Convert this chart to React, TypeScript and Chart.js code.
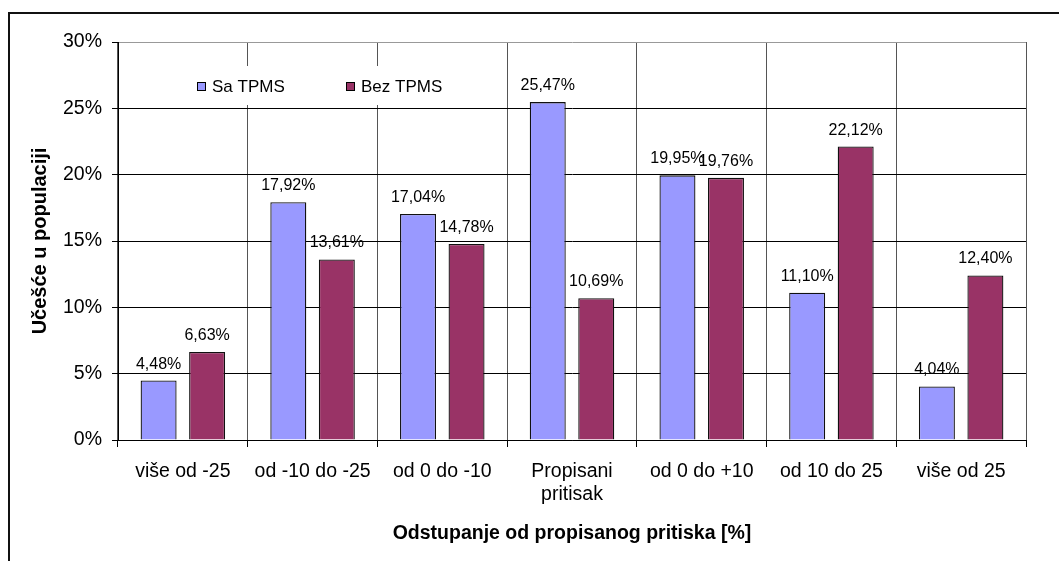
import React, { useEffect, useRef } from "react";
import { Chart, registerables } from "chart.js";

Chart.register(...registerables);

const categories: (string | string[])[] = [
  "više od -25",
  "od -10 do -25",
  "od 0 do -10",
  ["Propisani", "pritisak"],
  "od 0 do +10",
  "od 10 do 25",
  "više od 25",
];
const saTPMS = [4.48, 17.92, 17.04, 25.47, 19.95, 11.1, 4.04];
const bezTPMS = [6.63, 13.61, 14.78, 10.69, 19.76, 22.12, 12.4];
const seriesNames = ["Sa TPMS", "Bez TPMS"];
const seriesColors = ["#9999FF", "#993366"];
const yTicks = [0, 5, 10, 15, 20, 25, 30];
const xTitle = "Odstupanje od propisanog pritiska [%]";
const yTitle = "Učešće u populaciji";

const FONT = "'Liberation Sans', Arial, sans-serif";

const W = 1059;
const H = 561;

const fmt = (v: number) => v.toFixed(2).replace(".", ",") + "%";

const framePlugin = {
  id: "frame",
  afterDraw(chart: any) {
    const ctx = chart.ctx;
    ctx.save();
    ctx.fillStyle = "#111";
    ctx.fillRect(8, 12, W - 8, 2);
    ctx.fillRect(8, 12, 2, H - 12);
    ctx.restore();
  },
};

const legendPlugin = {
  id: "boxLegend",
  beforeDatasetsDraw(chart: any) {
    const ctx = chart.ctx;
    ctx.save();
    ctx.fillStyle = "#fff";
    ctx.fillRect(188, 66, 272, 39);
    const items = [
      { x: 197, label: seriesNames[0], color: seriesColors[0] },
      { x: 346, label: seriesNames[1], color: seriesColors[1] },
    ];
    ctx.font = `17px ${FONT}`;
    ctx.textBaseline = "middle";
    ctx.textAlign = "left";
    for (const it of items) {
      ctx.fillStyle = it.color;
      ctx.fillRect(it.x, 82, 9, 9);
      ctx.strokeStyle = "#000";
      ctx.lineWidth = 1;
      ctx.strokeRect(it.x + 0.5, 82.5, 8, 8);
      ctx.fillStyle = "#000";
      ctx.fillText(it.label, it.x + 15, 87);
    }
    ctx.restore();
  },
};

const labelPlugin = {
  id: "valueLabels",
  afterDatasetsDraw(chart: any) {
    const ctx = chart.ctx;
    ctx.save();
    ctx.font = `16px ${FONT}`;
    ctx.fillStyle = "#000";
    ctx.textAlign = "center";
    ctx.textBaseline = "alphabetic";
    chart.data.datasets.forEach((ds: any, di: number) => {
      const meta = chart.getDatasetMeta(di);
      meta.data.forEach((bar: any, i: number) => {
        ctx.fillText(fmt(ds.data[i]), bar.x, bar.y - 12);
      });
    });
    ctx.restore();
  },
};

export default function App() {
  const ref = useRef<HTMLCanvasElement>(null);

  useEffect(() => {
    if (!ref.current) return;
    const chart = new Chart(ref.current, {
      type: "bar",
      data: {
        labels: categories,
        datasets: [
          {
            label: seriesNames[0],
            data: saTPMS,
            backgroundColor: seriesColors[0],
            borderColor: "#111",
            borderWidth: 1.3,
            categoryPercentage: 0.748,
            barPercentage: 0.742,
          },
          {
            label: seriesNames[1],
            data: bezTPMS,
            backgroundColor: seriesColors[1],
            borderColor: "#111",
            borderWidth: 1.3,
            categoryPercentage: 0.748,
            barPercentage: 0.742,
          },
        ],
      },
      options: {
        responsive: false,
        animation: false,
        devicePixelRatio: 1,
        layout: { padding: { left: 0, top: 42, right: W - 1026, bottom: 0 } },
        plugins: {
          legend: { display: false },
          tooltip: { enabled: false },
        },
        scales: {
          x: {
            offset: true,
            grid: {
              offset: true,
              color: (c: any) => (c.index === categories.length ? "#999" : "#555"),
              tickColor: "#000",
              tickLength: 7,
              lineWidth: 1,
            },
            border: { color: "#000", width: 1 },
            ticks: {
              color: "#000",
              font: { family: FONT, size: 19.5 },
              padding: 13,
              autoSkip: false,
              maxRotation: 0,
              minRotation: 0,
            },
            title: {
              display: true,
              text: xTitle,
              color: "#000",
              font: { family: FONT, size: 19.5, weight: "bold" },
              padding: { top: 0, bottom: 16 },
            },
            afterFit: (s: any) => {
              s.height = H - 440;
            },
          },
          y: {
            min: 0,
            max: 30,
            afterBuildTicks: (s: any) => {
              s.ticks = yTicks.map((v) => ({ value: v }));
            },
            grid: {
              color: (c: any) => (c.tick && c.tick.value === 30 ? "#999" : "#000"),
              tickColor: "#000",
              tickLength: 6,
              lineWidth: 1,
            },
            border: { color: "#000", width: 1 },
            ticks: {
              color: "#000",
              font: { family: FONT, size: 19.5 },
              padding: 10,
              callback: (v: any) => v + "%",
            },
            title: {
              display: true,
              text: yTitle,
              color: "#000",
              font: { family: FONT, size: 20, weight: "bold" },
              padding: { top: 28, bottom: 0 },
            },
            afterFit: (s: any) => {
              s.width = 118;
            },
          },
        },
      },
      plugins: [legendPlugin, labelPlugin, framePlugin],
    });
    return () => chart.destroy();
  }, []);

  return (
    <div style={{ position: "fixed", left: 0, top: 0, width: W, height: H, background: "#fff" }}>
      <canvas ref={ref} width={W} height={H} style={{ display: "block" }} />
    </div>
  );
}
